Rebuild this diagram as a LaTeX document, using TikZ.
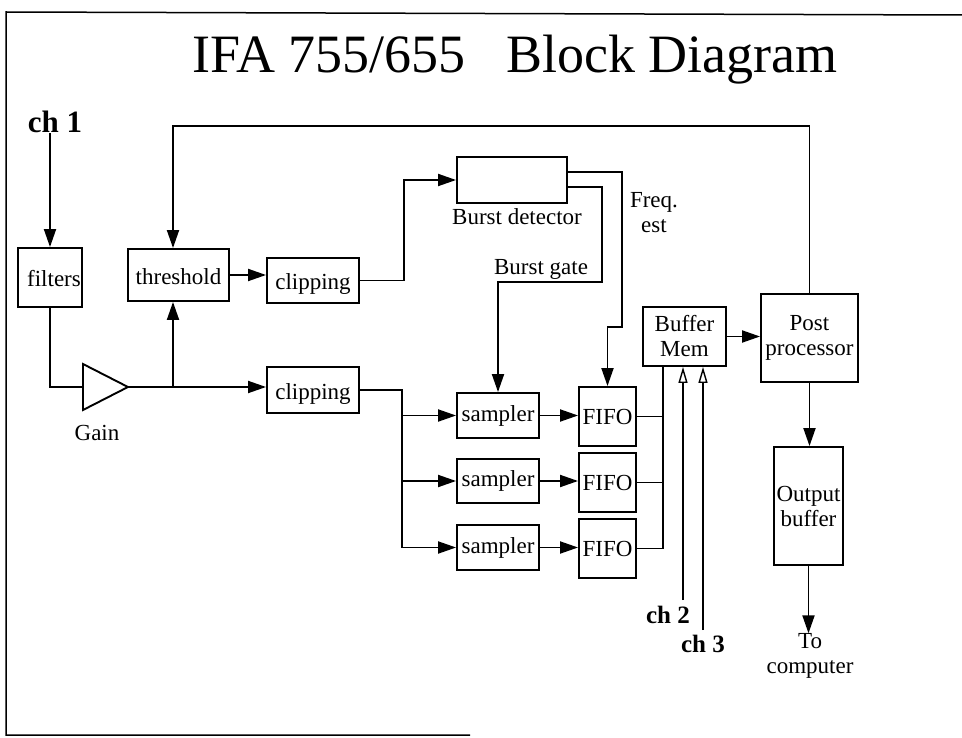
\documentclass[tikz,border=0pt]{standalone}
\usepackage{fontspec}
\setmainfont{Liberation Serif}
\usetikzlibrary{arrows.meta,calc}
\begin{document}
\begin{tikzpicture}[x=1pt,y=-1pt,
  box/.style={draw,line width=1.9pt,rectangle,inner sep=0pt,font=\fontsize{23}{25}\selectfont},
  low/.style={text height=19pt,text depth=0pt},
  lbl/.style={inner sep=0pt,font=\fontsize{23}{25}\selectfont},
  chl/.style={inner sep=0pt,font=\bfseries\fontsize{25}{27}\selectfont},
  wire/.style={line width=1.9pt},
  arr/.style={wire,-{Triangle[length=18pt,width=12pt]}},
  oarr/.style={line width=1.4pt,-{Triangle[open,length=16pt,width=9pt]}}]
\useasboundingbox (0,0) rectangle (962,738);
% frame
\draw[line width=1.5pt] (470,735) -- (6,735) -- (6,12) -- (962,15);
% title
\node[lbl,font=\fontsize{54}{60}\selectfont] (title) at (515,60) {IFA 755/655\hspace{0.5em} Block Diagram};
% boxes
\node[box,low,minimum width=64pt,minimum height=59pt] (filt) at (50,277.5) {\hspace*{8pt}filters};
\node[box,low,minimum width=101pt,minimum height=52pt] (thr) at (178.5,275) {threshold};
\node[box,low,minimum width=92pt,minimum height=45pt] (clip1) at (313,280.5) {clipping};
\node[box,low,minimum width=92pt,minimum height=46pt] (clip2) at (313,390) {clipping};
\node[box,minimum width=110pt,minimum height=46pt] (burst) at (512,180) {};
\node[box,minimum width=82pt,minimum height=45pt] (s1) at (498,415.5) {sampler};
\node[box,minimum width=82pt,minimum height=44pt] (s2) at (498,481) {sampler};
\node[box,minimum width=82pt,minimum height=45pt] (s3) at (498,547.5) {sampler};
\node[box,minimum width=57pt,minimum height=59pt] (f1) at (607.5,416.5) {\raisebox{-7pt}{FIFO}};
\node[box,minimum width=57pt,minimum height=59pt] (f2) at (607.5,482.5) {FIFO};
\node[box,minimum width=57pt,minimum height=59pt] (f3) at (607.5,548.5) {FIFO};
\node[box,align=center,minimum width=83pt,minimum height=59pt] (buf) at (684.5,336.5) {Buffer\\Mem};
\node[box,align=center,minimum width=97pt,minimum height=88pt] (post) at (809.5,338) {Post\\processor};
\node[box,align=center,minimum width=69pt,minimum height=118pt] (out) at (808.5,506) {Output\\buffer};
% gain triangle
\coordinate (gin) at (83,387);
\coordinate (gout) at (128,387);
\draw[wire,line join=miter] (83,364) -- (83,410) -- (gout) -- cycle;
% labels
\node[chl,font=\bfseries\fontsize{31}{33}\selectfont] (ch1) at (55,122) {ch 1};
\node[chl] (ch2) at (668,615) {ch 2};
\node[chl] (ch3) at (703,644) {ch 3};
\node[lbl] (gain) at (97,433) {Gain};
\node[lbl] (bdet) at (517,217) {Burst detector};
\node[lbl] (bgate) at (541,269) {Burst gate};
\node[lbl,align=center] (freq) at (654,213) {Freq.\\est};
\node[lbl,align=center] (tocomp) at (810,656) {To\\computer};
% coordinates
\coordinate (j1) at (173,387);
\coordinate (k1) at (404,0);
\coordinate (k2) at (402,0);
\coordinate (fq) at (622,327);
\coordinate (bg) at (602,282);
\coordinate (bus) at (663,0);
\coordinate (c2) at (683,600);
\coordinate (c3) at (703,630);
\coordinate (fb) at (173,126);
% connectors
\draw[arr] (ch1.south -| filt.north) -- (filt.north);
\draw[wire] (filt.south) -- (filt.south |- gin) -- (gin);
\draw[arr] (gout) -- (gout -| clip2.west);
\draw[arr] (j1) -- (j1 |- thr.south);
\draw[arr] (thr.east) -- (thr.east -| clip1.west);
\draw[arr] (clip1.east) -- (clip1.east -| k1) -- (k1 |- burst.west) -- (burst.west);
\draw[arr] ([yshift=8pt]burst.east) -| (fq) -- (fq -| f1.north) -- (f1.north);
\draw[arr] ([yshift=-7pt]burst.east) -| (bg) -- (bg -| s1.north) -- (s1.north);
\draw[wire] (clip2.east) -| (k2 |- s3.west);
\draw[arr] (k2 |- s1.west) -- (s1.west);
\draw[arr] (k2 |- s2.west) -- (s2.west);
\draw[arr] (k2 |- s3.west) -- (s3.west);
\draw[arr] (s1.east) -- (s1.east -| f1.west);
\draw[arr] (s2.east) -- (s2.east -| f2.west);
\draw[arr] (s3.east) -- (s3.east -| f3.west);
\draw[wire] (f1.east) -- (f1.east -| bus);
\draw[wire] (f2.east) -- (f2.east -| bus);
\draw[wire] (f3.east) -- (f3.east -| bus);
\draw[wire] (bus |- f3.east) -- (bus |- buf.south);
\draw[oarr] (c2) -- (c2 |- buf.south);
\draw[oarr] (c3) -- (c3 |- buf.south);
\draw[arr] (buf.east) -- (buf.east -| post.west);
\draw[arr] (post.south) -- (post.south |- out.north);
\draw[arr] (out.south) -- (out.south |- tocomp.north);
\draw[arr] (post.north) |- (fb) -- (fb |- thr.north);
\end{tikzpicture}
\end{document}
